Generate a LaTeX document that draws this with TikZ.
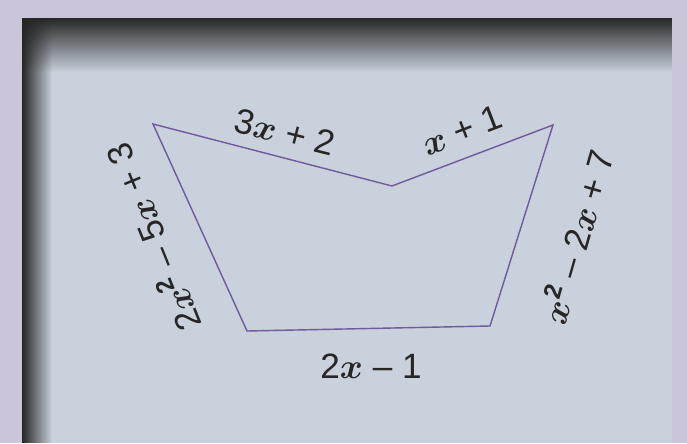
\documentclass[tikz,border=0pt]{standalone}
\usepackage{fontspec}
\setmainfont{Liberation Sans}
\usepackage{xcolor}
\usepackage{tikz}
\usetikzlibrary{fadings}
\definecolor{lilac}{HTML}{CBC5D9}
\definecolor{panel}{HTML}{C9D1DC}
\definecolor{edgeviolet}{HTML}{6E5A9C}
\definecolor{ink}{HTML}{262626}
\newcommand{\xv}{{\boldmath$x$}}
\newcommand{\xsq}{{\boldmath$x^{\mathrm{2}}$}}

\begin{document}
\begin{tikzpicture}[
  x=0.025cm, y=-0.025cm,
  side/.style={edgeviolet,line width=1pt,line join=miter},
  lbl/.style={ink,inner sep=0pt,font=\fontsize{25}{28}\selectfont}
]
\useasboundingbox (0,0) rectangle (687,443);
% card and its shadowed edges
\fill[lilac] (0,0) rectangle (687,443);
\fill[panel] (22,18) rectangle (672,443);
\fill[black!85,path fading=east] (22,18) rectangle (52,443);
\fill[black!85,path fading=south] (22,18) rectangle (672,72);
% corners of the figure
\coordinate (tl) at (153,124);
\coordinate (notch) at (392,186);
\coordinate (tr) at (553,125);
\coordinate (br) at (490,326);
\coordinate (bl) at (247,331);
\draw[side] (tl) -- (notch) -- (tr) -- (br) -- (bl) -- cycle;
% side lengths
\node[lbl,rotate=-14] (topleft) at (285,132) {3\xv\ + 2};
\node[lbl,rotate=21] (topright) at (462,130) {\xv\ + 1};
\node[lbl,rotate=112] (left) at (152,238) {2\xsq\ -- 5\xv\ + 3};
\node[lbl,rotate=74] (right) at (576,236) {\xsq\ -- 2\xv\ + 7};
\node[lbl] (bottom) at (371,366) {2\xv\ -- 1};
\end{tikzpicture}
\end{document}
